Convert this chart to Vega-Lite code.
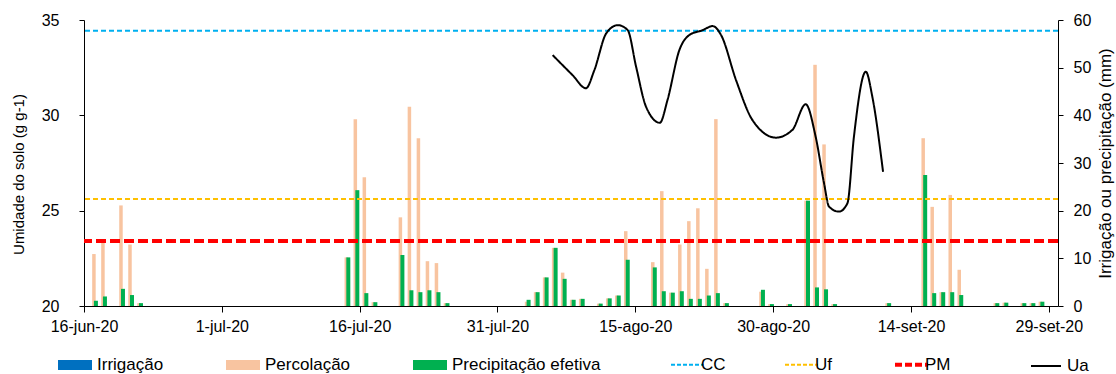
{
  "$schema": "https://vega.github.io/schema/vega-lite/v6.json",
  "width": 974,
  "height": 286,
  "autosize": {"type": "none"},
  "padding": {"left": 84, "top": 20, "right": 58, "bottom": 68},
  "background": "white",
  "config": {
    "view": {"stroke": null},
    "font": "Liberation Sans",
    "axis": {"grid": false, "domainColor": "#000", "tickColor": "#000", "labelColor": "#000", "titleColor": "#000", "labelFontSize": 16, "titleFontSize": 15, "titleFontWeight": "normal", "labelFont": "Liberation Sans", "titleFont": "Liberation Sans"},
    "legend": {"labelFont": "Liberation Sans", "labelFontSize": 17, "labelColor": "#000", "padding": 0}
  },
  "datasets": {
    "barras": [
      {"data": "2020-06-16", "percolacao": 10.9, "precipitacao": 1.1},
      {"data": "2020-06-17", "percolacao": 14.0, "precipitacao": 2.0},
      {"data": "2020-06-19", "percolacao": 21.1, "precipitacao": 3.6},
      {"data": "2020-06-20", "percolacao": 12.9, "precipitacao": 2.3},
      {"data": "2020-06-21", "percolacao": 0.6, "precipitacao": 0.6},
      {"data": "2020-07-14", "percolacao": 10.2, "precipitacao": 10.2},
      {"data": "2020-07-15", "percolacao": 39.2, "precipitacao": 24.3},
      {"data": "2020-07-16", "percolacao": 27.0, "precipitacao": 2.7},
      {"data": "2020-07-17", "percolacao": 0.8, "precipitacao": 0.8},
      {"data": "2020-07-20", "percolacao": 18.6, "precipitacao": 10.7},
      {"data": "2020-07-21", "percolacao": 41.8, "precipitacao": 3.3},
      {"data": "2020-07-22", "percolacao": 35.2, "precipitacao": 2.9},
      {"data": "2020-07-23", "percolacao": 9.4, "precipitacao": 3.3},
      {"data": "2020-07-24", "percolacao": 9.0, "precipitacao": 2.9},
      {"data": "2020-07-25", "percolacao": 0.6, "precipitacao": 0.6},
      {"data": "2020-08-03", "percolacao": 0.9, "precipitacao": 1.3},
      {"data": "2020-08-04", "percolacao": 2.9, "precipitacao": 2.9},
      {"data": "2020-08-05", "percolacao": 6.0, "precipitacao": 6.0},
      {"data": "2020-08-06", "percolacao": 12.2, "precipitacao": 12.2},
      {"data": "2020-08-07", "percolacao": 7.0, "precipitacao": 5.7},
      {"data": "2020-08-08", "percolacao": 1.3, "precipitacao": 1.3},
      {"data": "2020-08-09", "percolacao": 1.5, "precipitacao": 1.5},
      {"data": "2020-08-11", "percolacao": 0.5, "precipitacao": 0.5},
      {"data": "2020-08-12", "percolacao": 1.6, "precipitacao": 1.6},
      {"data": "2020-08-13", "percolacao": 2.2, "precipitacao": 2.2},
      {"data": "2020-08-14", "percolacao": 15.7, "precipitacao": 9.7},
      {"data": "2020-08-17", "percolacao": 9.2, "precipitacao": 8.1},
      {"data": "2020-08-18", "percolacao": 24.1, "precipitacao": 3.1},
      {"data": "2020-08-19", "percolacao": 2.8, "precipitacao": 2.8},
      {"data": "2020-08-20", "percolacao": 12.9, "precipitacao": 3.1},
      {"data": "2020-08-21", "percolacao": 17.8, "precipitacao": 1.5},
      {"data": "2020-08-22", "percolacao": 20.5, "precipitacao": 1.5},
      {"data": "2020-08-23", "percolacao": 7.8, "precipitacao": 2.2},
      {"data": "2020-08-24", "percolacao": 39.2, "precipitacao": 2.7},
      {"data": "2020-08-25", "percolacao": 0.6, "precipitacao": 0.6},
      {"data": "2020-08-29", "percolacao": 3.0, "precipitacao": 3.4},
      {"data": "2020-08-30", "percolacao": 0.4, "precipitacao": 0.4},
      {"data": "2020-09-01", "percolacao": 0.4, "precipitacao": 0.4},
      {"data": "2020-09-03", "percolacao": 22.1, "precipitacao": 22.1},
      {"data": "2020-09-04", "percolacao": 50.6, "precipitacao": 3.9},
      {"data": "2020-09-05", "percolacao": 33.9, "precipitacao": 3.5},
      {"data": "2020-09-06", "percolacao": 0.4, "precipitacao": 0.4},
      {"data": "2020-09-12", "percolacao": 0.6, "precipitacao": 0.6},
      {"data": "2020-09-16", "percolacao": 35.2, "precipitacao": 27.5},
      {"data": "2020-09-17", "percolacao": 20.8, "precipitacao": 2.7},
      {"data": "2020-09-18", "percolacao": 2.9, "precipitacao": 2.9},
      {"data": "2020-09-19", "percolacao": 23.3, "precipitacao": 2.9},
      {"data": "2020-09-20", "percolacao": 7.6, "precipitacao": 2.3},
      {"data": "2020-09-24", "percolacao": 0.6, "precipitacao": 0.6},
      {"data": "2020-09-25", "percolacao": 0.7, "precipitacao": 0.7},
      {"data": "2020-09-27", "percolacao": 0.6, "precipitacao": 0.6},
      {"data": "2020-09-28", "percolacao": 0.6, "precipitacao": 0.6},
      {"data": "2020-09-29", "percolacao": 0.9, "precipitacao": 0.9}
    ],
    "ua": [
      {"data": "2020-08-06T00:00:00Z", "ua": 33.16},
      {"data": "2020-08-08T04:00:00Z", "ua": 32.11},
      {"data": "2020-08-09T15:00:00Z", "ua": 31.42},
      {"data": "2020-08-10T13:00:00Z", "ua": 32.37},
      {"data": "2020-08-11T20:00:00Z", "ua": 34.30},
      {"data": "2020-08-13T02:00:00Z", "ua": 34.73},
      {"data": "2020-08-14T04:00:00Z", "ua": 34.47},
      {"data": "2020-08-15T02:00:00Z", "ua": 32.55},
      {"data": "2020-08-16T04:00:00Z", "ua": 30.45},
      {"data": "2020-08-17T16:00:00Z", "ua": 29.61},
      {"data": "2020-08-18T12:00:00Z", "ua": 30.80},
      {"data": "2020-08-19T19:00:00Z", "ua": 33.42},
      {"data": "2020-08-20T21:00:00Z", "ua": 34.21},
      {"data": "2020-08-22T08:00:00Z", "ua": 34.47},
      {"data": "2020-08-23T10:00:00Z", "ua": 34.68},
      {"data": "2020-08-24T08:00:00Z", "ua": 34.21},
      {"data": "2020-08-25T23:00:00Z", "ua": 31.85},
      {"data": "2020-08-27T18:00:00Z", "ua": 29.75},
      {"data": "2020-08-30T07:00:00Z", "ua": 28.83},
      {"data": "2020-09-01T02:00:00Z", "ua": 29.23},
      {"data": "2020-09-02T13:00:00Z", "ua": 30.58},
      {"data": "2020-09-03T15:00:00Z", "ua": 28.88},
      {"data": "2020-09-04T13:00:00Z", "ua": 26.43},
      {"data": "2020-09-05T02:00:00Z", "ua": 25.21},
      {"data": "2020-09-06T04:00:00Z", "ua": 24.95},
      {"data": "2020-09-07T02:00:00Z", "ua": 25.39},
      {"data": "2020-09-07T19:00:00Z", "ua": 28.88},
      {"data": "2020-09-09T02:00:00Z", "ua": 32.29},
      {"data": "2020-09-09T19:00:00Z", "ua": 30.98},
      {"data": "2020-09-10T23:00:00Z", "ua": 27.04}
    ],
    "limites": [
      {"nome": "CC", "valor": 34.44},
      {"nome": "Uf", "valor": 25.61},
      {"nome": "PM", "valor": 23.41}
    ]
  },
  "layer": [
    {
      "data": {"name": "barras"},
      "layer": [
        {
          "mark": {"type": "bar", "size": 3.5, "xOffset": -2},
          "encoding": {
            "x": {"field": "data", "type": "temporal", "scale": {"type": "utc", "domain": [{"year": 2020, "month": 6, "date": 15, "hours": 5, "minutes": 33, "utc": true}, {"year": 2020, "month": 9, "date": 30, "hours": 4, "minutes": 19, "utc": true}]}, "axis": null},
            "y": {"field": "percolacao", "type": "quantitative", "scale": {"domain": [0, 60], "nice": false}, "axis": {"orient": "right", "values": [0, 10, 20, 30, 40, 50, 60], "tickSize": 5, "labelPadding": 10, "title": "Irrigação ou precipitação (mm)", "titleFontSize": 17, "titleAngle": 270, "titleX": 47, "titleY": 143, "titleBaseline": "middle", "titleAlign": "center"}},
            "color": {"datum": "Percolação", "scale": {"domain": ["Irrigação", "Percolação", "Precipitação efetiva"], "range": ["#0070C0", "#F8C4A0", "#00B050"]}, "legend": {"orient": "none", "legendX": -26, "legendY": 328, "direction": "horizontal", "title": null, "symbolType": "M-1,-0.3H1V0.3H-1Z", "symbolSize": 1156, "symbolStrokeWidth": 0, "columnPadding": 62, "labelOffset": 5}}
          }
        },
        {
          "mark": {"type": "bar", "size": 4},
          "encoding": {
            "x": {"field": "data", "type": "temporal"},
            "y": {"field": "precipitacao", "type": "quantitative", "axis": {"orient": "right", "values": [0, 10, 20, 30, 40, 50, 60], "tickSize": 5, "labelPadding": 10, "title": "Irrigação ou precipitação (mm)", "titleFontSize": 17, "titleAngle": 270, "titleX": 47, "titleY": 143, "titleBaseline": "middle", "titleAlign": "center"}},
            "color": {"datum": "Precipitação efetiva", "legend": {"orient": "none", "legendX": -26, "legendY": 328, "direction": "horizontal", "title": null, "symbolType": "M-1,-0.3H1V0.3H-1Z", "symbolSize": 1156, "symbolStrokeWidth": 0, "columnPadding": 62, "labelOffset": 5}}
          }
        }
      ]
    },
    {
      "layer": [
        {
          "data": {"name": "limites"},
          "transform": [{"filter": "datum.nome !== 'PM'"}],
          "mark": {"type": "rule", "strokeWidth": 2, "strokeDash": [5, 3]},
          "encoding": {
            "y": {"field": "valor", "type": "quantitative", "scale": {"domain": [20, 35], "nice": false, "zero": false}, "axis": {"orient": "left", "values": [20, 25, 30, 35], "tickSize": 5, "labelPadding": 20, "title": "Umidade do solo (g g-1)", "titleX": -66, "titleY": 154, "titleBaseline": "middle", "titleAlign": "center", "titleAngle": 270}},
            "stroke": {"field": "nome", "type": "nominal", "scale": {"domain": ["CC", "Uf", "PM"], "range": ["#00B0F0", "#FFC000", "#FF0000"]}, "legend": {"orient": "none", "legendX": 595, "legendY": 336, "direction": "horizontal", "title": null, "symbolType": "stroke", "symbolSize": 1089, "symbolStrokeWidth": 2, "columnPadding": 55, "labelOffset": 5, "encode": {"symbols": {"update": {"strokeWidth": {"signal": "datum.value === 'PM' ? 4 : 2"}, "strokeDash": {"signal": "datum.value === 'PM' ? [7, 3] : [4, 2]"}}}}}}
          }
        },
        {
          "data": {"name": "limites"},
          "transform": [{"filter": "datum.nome === 'PM'"}],
          "mark": {"type": "rule", "strokeWidth": 4, "strokeDash": [10, 4]},
          "encoding": {
            "y": {"field": "valor", "type": "quantitative", "axis": {"orient": "left", "values": [20, 25, 30, 35], "tickSize": 5, "labelPadding": 20, "title": "Umidade do solo (g g-1)", "titleX": -66, "titleY": 154, "titleBaseline": "middle", "titleAlign": "center", "titleAngle": 270}},
            "stroke": {"field": "nome", "type": "nominal"}
          }
        },
        {
          "data": {"name": "ua"},
          "mark": {"type": "line", "color": "black", "strokeWidth": 2, "interpolate": "monotone"},
          "encoding": {
            "x": {"field": "data", "type": "temporal", "scale": {"type": "utc", "domain": [{"year": 2020, "month": 6, "date": 16, "utc": true}, {"year": 2020, "month": 9, "date": 30, "utc": true}]}, "axis": {"orient": "bottom", "title": null, "tickSize": 6, "labelPadding": 6, "labelFlush": false, "labelOverlap": false, "values": [{"year": 2020, "month": 6, "date": 16, "utc": true}, {"year": 2020, "month": 7, "date": 1, "utc": true}, {"year": 2020, "month": 7, "date": 16, "utc": true}, {"year": 2020, "month": 7, "date": 31, "utc": true}, {"year": 2020, "month": 8, "date": 15, "utc": true}, {"year": 2020, "month": 8, "date": 30, "utc": true}, {"year": 2020, "month": 9, "date": 14, "utc": true}, {"year": 2020, "month": 9, "date": 29, "utc": true}], "labelExpr": "utcdate(datum.value) + '-' + ['jan','fev','mar','abr','mai','jun','jul','ago','set','out','nov','dez'][utcmonth(datum.value)] + '-20'"}},
            "y": {"field": "ua", "type": "quantitative", "axis": {"orient": "left", "values": [20, 25, 30, 35], "tickSize": 5, "labelPadding": 20, "title": "Umidade do solo (g g-1)", "titleX": -66, "titleY": 154, "titleBaseline": "middle", "titleAlign": "center", "titleAngle": 270}},
            "strokeDash": {"datum": "Ua", "scale": {"domain": ["Ua"], "range": [[1, 0]]}, "legend": {"orient": "none", "legendX": 946, "legendY": 330, "direction": "horizontal", "title": null, "symbolType": "stroke", "symbolSize": 900, "symbolStrokeColor": "black", "symbolStrokeWidth": 2, "labelOffset": 5}}
          }
        }
      ]
    }
  ],
  "resolve": {"scale": {"x": "independent", "y": "independent"}}
}
